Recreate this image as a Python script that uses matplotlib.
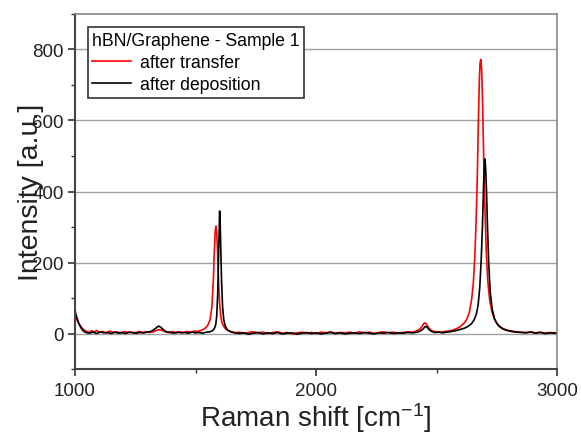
import matplotlib.pyplot as plt
import matplotlib.ticker as mticker

plt.rcParams['font.family'] = ['Liberation Sans', 'DejaVu Sans']
plt.rcParams['mathtext.fontset'] = 'custom'
plt.rcParams['mathtext.rm'] = 'Liberation Sans'
plt.rcParams['mathtext.default'] = 'rm'

# Raman spectra (wavenumber in cm^-1, intensity in a.u.)
wn_transfer = [1000, 1005, 1010, 1020, 1030, 1040, 1050, 1060, 1070, 1080, 1090, 1100,
               1115, 1130, 1145, 1160, 1175, 1190, 1205, 1220, 1235, 1250, 1265, 1280,
               1295, 1310, 1325, 1335, 1345, 1355, 1365, 1375, 1390, 1405, 1420, 1435,
               1450, 1465, 1480, 1495, 1510, 1520, 1530, 1540, 1550, 1560, 1568, 1574,
               1578, 1582, 1585, 1588, 1592, 1596, 1600, 1605, 1610, 1620, 1630, 1640,
               1650, 1665, 1680, 1700, 1720, 1740, 1760, 1780, 1800, 1820, 1840, 1860,
               1880, 1900, 1920, 1940, 1960, 1980, 2000, 2020, 2040, 2060, 2080, 2100,
               2120, 2140, 2160, 2180, 2200, 2220, 2240, 2260, 2280, 2300, 2320, 2340,
               2360, 2380, 2400, 2415, 2425, 2435, 2442, 2448, 2453, 2460, 2468, 2478,
               2490, 2505, 2520, 2535, 2550, 2565, 2580, 2595, 2605, 2615, 2625, 2635,
               2645, 2652, 2658, 2664, 2669, 2673, 2677, 2680, 2683, 2687, 2691, 2695,
               2700, 2706, 2712, 2720, 2730, 2740, 2750, 2760, 2775, 2790, 2810, 2830,
               2850, 2870, 2890, 2910, 2930, 2950, 2970, 2990, 3000]
int_transfer = [50, 44, 36, 24, 15, 9, 6, 3, 8, 4, 9, 3,
                6, 2, 7, 3, 5, 1, 6, 3, 4, 2, 6, 3,
                5, 3, 5, 8, 11, 10, 8, 5, 3, 6, 2, 5,
                3, 6, 4, 7, 6, 8, 11, 15, 22, 38, 75, 150,
                230, 290, 303, 285, 220, 140, 85, 48, 30, 17, 10, 7,
                5, 2, 4, 1, 3, 5, 2, 4, 0, 3, 5, 1,
                3, -1, 2, 4, 1, 3, 0, 4, 2, 5, 1, 3,
                2, 4, 1, 5, 2, 4, 1, 3, 5, 2, 4, 1,
                3, 5, 4, 7, 10, 16, 23, 29, 30, 24, 15, 9,
                6, 5, 4, 6, 7, 9, 13, 18, 24, 30, 40, 58,
                95, 140, 210, 320, 450, 590, 710, 760, 772, 740, 640, 500,
                360, 230, 150, 95, 60, 40, 29, 21, 14, 10, 7, 5,
                4, 3, 5, 2, 4, 1, 3, 2, 3]

wn_deposit = [1000, 1003, 1008, 1015, 1025, 1035, 1045, 1060, 1075, 1090, 1105, 1120,
              1135, 1150, 1165, 1180, 1195, 1210, 1225, 1240, 1255, 1270, 1285, 1300,
              1315, 1325, 1335, 1342, 1348, 1355, 1362, 1370, 1380, 1395, 1410, 1425,
              1440, 1455, 1470, 1485, 1500, 1515, 1530, 1545, 1560, 1570, 1578, 1584,
              1588, 1592, 1595, 1598, 1600, 1602, 1605, 1608, 1612, 1617, 1623, 1630,
              1640, 1650, 1665, 1680, 1700, 1720, 1740, 1760, 1780, 1800, 1820, 1840,
              1860, 1880, 1900, 1920, 1940, 1960, 1980, 2000, 2020, 2040, 2060, 2080,
              2100, 2120, 2140, 2160, 2180, 2200, 2220, 2240, 2260, 2280, 2300, 2320,
              2340, 2360, 2380, 2400, 2420, 2435, 2445, 2452, 2458, 2464, 2472, 2482,
              2495, 2510, 2525, 2540, 2555, 2570, 2585, 2600, 2615, 2630, 2645, 2655,
              2665, 2672, 2679, 2685, 2690, 2694, 2697, 2700, 2703, 2707, 2711, 2716,
              2722, 2730, 2740, 2750, 2760, 2775, 2790, 2810, 2830, 2850, 2870, 2890,
              2910, 2930, 2950, 2970, 2990, 3000]
int_deposit = [70, 56, 45, 30, 16, 7, 3, 1, 4, 0, 5, 2,
               3, 0, 4, 1, 3, 0, 4, 2, 1, 3, 2, 4,
               6, 10, 15, 19, 21, 18, 14, 9, 5, 3, 1, 4,
               2, 3, 1, 4, 2, 3, 1, 4, 5, 8, 14, 25,
               50, 110, 200, 300, 345, 320, 240, 150, 80, 40, 22, 12,
               7, 4, 2, 0, 2, -2, 1, 3, -1, 2, 0, 3,
               -1, 1, 2, -2, 1, 3, 0, 2, -1, 1, 3, 0,
               2, -1, 1, 2, 0, 3, 1, -1, 2, 1, 3, 0,
               2, 1, 3, 2, 4, 8, 14, 19, 20, 15, 9, 5,
               3, 4, 2, 4, 5, 7, 9, 12, 15, 20, 28, 38,
               55, 80, 130, 210, 300, 400, 460, 492, 470, 400, 300, 200,
               120, 70, 42, 28, 20, 13, 9, 6, 4, 3, 2, 4,
               1, 3, 0, 2, 1, 2]

fig = plt.figure(figsize=(5.81, 4.39), dpi=100)
ax = fig.add_axes((0.129, 0.157, 0.83, 0.809))

ax.plot(wn_transfer, int_transfer, color='#ff0000', lw=1.2, label='after transfer')
ax.plot(wn_deposit, int_deposit, color='#000000', lw=1.2, label='after deposition')

ax.set_xlim(1000, 3000)
ax.set_ylim(-100, 900)
ax.xaxis.set_major_locator(mticker.MultipleLocator(1000))
ax.xaxis.set_minor_locator(mticker.MultipleLocator(500))
ax.yaxis.set_major_locator(mticker.MultipleLocator(200))
ax.yaxis.set_minor_locator(mticker.MultipleLocator(100))
ax.grid(axis='y', which='major', color='#a0a0a0', lw=1.0)
ax.set_axisbelow(True)

ax.tick_params(which='major', direction='out', length=5, width=1.2, labelsize=13.5,
               colors='#333333', labelcolor='#222222')
ax.tick_params(which='minor', direction='out', length=3, width=1.0, colors='#333333')
ax.tick_params(axis='x', pad=4)
ax.tick_params(axis='y', pad=3)

for side in ['left', 'bottom']:
    ax.spines[side].set_color('#444444')
    ax.spines[side].set_linewidth(1.5)
for side in ['top', 'right']:
    ax.spines[side].set_color('#888888')
    ax.spines[side].set_linewidth(1.2)

ax.set_xlabel('Raman shift [cm$^{-1}$]', fontsize=20, color='#222222', labelpad=1)
ax.set_ylabel('Intensity [a.u.]', fontsize=20.5, color='#222222')
ax.yaxis.set_label_coords(-0.065, 0.5)

leg = ax.legend(loc='upper left', bbox_to_anchor=(0.027, 0.962), title='hBN/Graphene - Sample 1',
                fontsize=12.7, title_fontsize=12.7, fancybox=False, framealpha=1,
                edgecolor='#333333', handlelength=2.2, handletextpad=0.5,
                borderpad=0.25, labelspacing=0.3, borderaxespad=0)
leg._legend_box.align = 'left'
leg.get_frame().set_linewidth(1.2)

fig.savefig('out.png', dpi=100)
